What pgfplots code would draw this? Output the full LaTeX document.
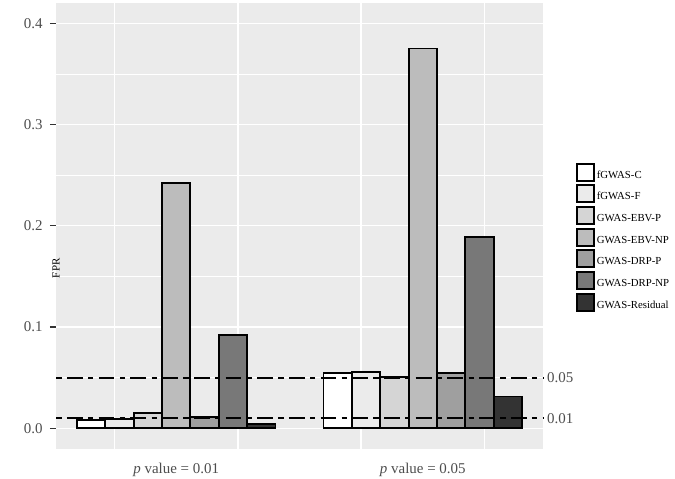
\documentclass[border=0pt]{standalone}
\usepackage{fontspec}
\setmainfont{Liberation Serif}
\usepackage{pgfplots}
\pgfplotsset{compat=1.18}
\definecolor{panel}{HTML}{EBEBEB}
\definecolor{tickgrey}{HTML}{4D4D4D}
\definecolor{tickmark}{HTML}{333333}
\definecolor{g1}{HTML}{FFFFFF}
\definecolor{g2}{HTML}{EBEBEB}
\definecolor{g3}{HTML}{D5D5D5}
\definecolor{g4}{HTML}{BCBCBC}
\definecolor{g5}{HTML}{9F9F9F}
\definecolor{g6}{HTML}{787878}
\definecolor{g7}{HTML}{333333}
\pgfplotsset{
  mybar/.style={ybar, bar width=0.23, bar shift=0pt, draw=black, /tikz/line width=1.8bp, fill=#1,
    legend image code/.code={\draw[fill=#1, draw=black, line width=2bp] (0bp,-5.5bp) rectangle (17bp,11.5bp);}},
}
\begin{document}
\begin{tikzpicture}
\path[use as bounding box] (-56bp,-30bp) rectangle (619bp,449bp);
\begin{axis}[
  at={(0,0)}, anchor=south west,
  scale only axis, width=487bp, height=446bp,
  xmin=0.025, xmax=3.975, ymin=-0.0204, ymax=0.420,
  clip=false,
  axis background/.style={fill=panel},
  axis line style={draw=none},
  xtick={1,2,3},
  xticklabels={{\textit{p} value = 0.01},{},{\textit{p} value = 0.05}},
  minor xtick={0.5,1.5,2.5,3.5},
  ytick={0,0.1,0.2,0.3,0.4},
  yticklabels={0.0,0.1,0.2,0.3,0.4},
  minor ytick={0.05,0.15,0.25,0.35},
  xminorgrids=true, ymajorgrids=true, yminorgrids=true,
  major y grid style={white, line width=1.4bp},
  minor y grid style={white, line width=0.7bp},
  minor x grid style={white, line width=1.4bp},
  tick align=outside,
  ytick pos=left, xtick pos=bottom,
  major tick length=6bp, minor tick length=0bp,
  ytick style={tickmark, line width=1.2bp},
  xtick style={draw=none},
  yticklabel style={font=\fontsize{15}{15}\selectfont, text=tickgrey, inner sep=0pt, xshift=-7.3bp, anchor=east},
  xticklabel style={font=\fontsize{15}{15}\selectfont, text=tickgrey, inner sep=0pt, yshift=-8bp, anchor=north},
  ylabel={FPR},
  ylabel style={font=\fontsize{11}{12}\selectfont, at={(axis description cs:0,0.506)}, anchor=center, xshift=-45bp},
  legend style={at={(1,0)}, anchor=north west, xshift=32.35bp, yshift=286.5bp,
    draw=none, fill=none, inner sep=0pt, row sep=2.7bp, column sep=2.3bp,
    font=\fontsize{10.8}{12}\selectfont,
    nodes={inner sep=0pt}},
  legend cell align=left,
]
\addplot[mybar=g1] coordinates {(0.31,0.0085) (2.31,0.055)};
\addplot[mybar=g2] coordinates {(0.54,0.0095) (2.54,0.056)};
\addplot[mybar=g3] coordinates {(0.77,0.0155) (2.77,0.0505)};
\addplot[mybar=g4] coordinates {(1.00,0.242) (3.00,0.375)};
\addplot[mybar=g5] coordinates {(1.23,0.0115) (3.23,0.055)};
\addplot[mybar=g6] coordinates {(1.46,0.092) (3.46,0.189)};
\addplot[mybar=g7] coordinates {(1.69,0.0045) (3.69,0.0315)};
\legend{fGWAS-C,fGWAS-F,GWAS-EBV-P,GWAS-EBV-NP,GWAS-DRP-P,GWAS-DRP-NP,GWAS-Residual}
\addplot[forget plot, black, line width=2bp, dash pattern=on 15.8bp off 5.3bp on 5.3bp off 5.3bp, dash phase=20.7bp] coordinates {(0.025,0.05) (3.975,0.05)};
\addplot[forget plot, black, line width=2bp, dash pattern=on 15.8bp off 5.3bp on 5.3bp off 5.3bp, dash phase=20.7bp] coordinates {(0.025,0.01) (3.975,0.01)};
\node[anchor=west, inner sep=0pt, xshift=4bp, font=\fontsize{15}{15}\selectfont, text=tickgrey] at (axis cs:3.975,0.05) {0.05};
\node[anchor=west, inner sep=0pt, xshift=4bp, font=\fontsize{15}{15}\selectfont, text=tickgrey] at (axis cs:3.975,0.01) {0.01};
\end{axis}
\end{tikzpicture}
\end{document}
